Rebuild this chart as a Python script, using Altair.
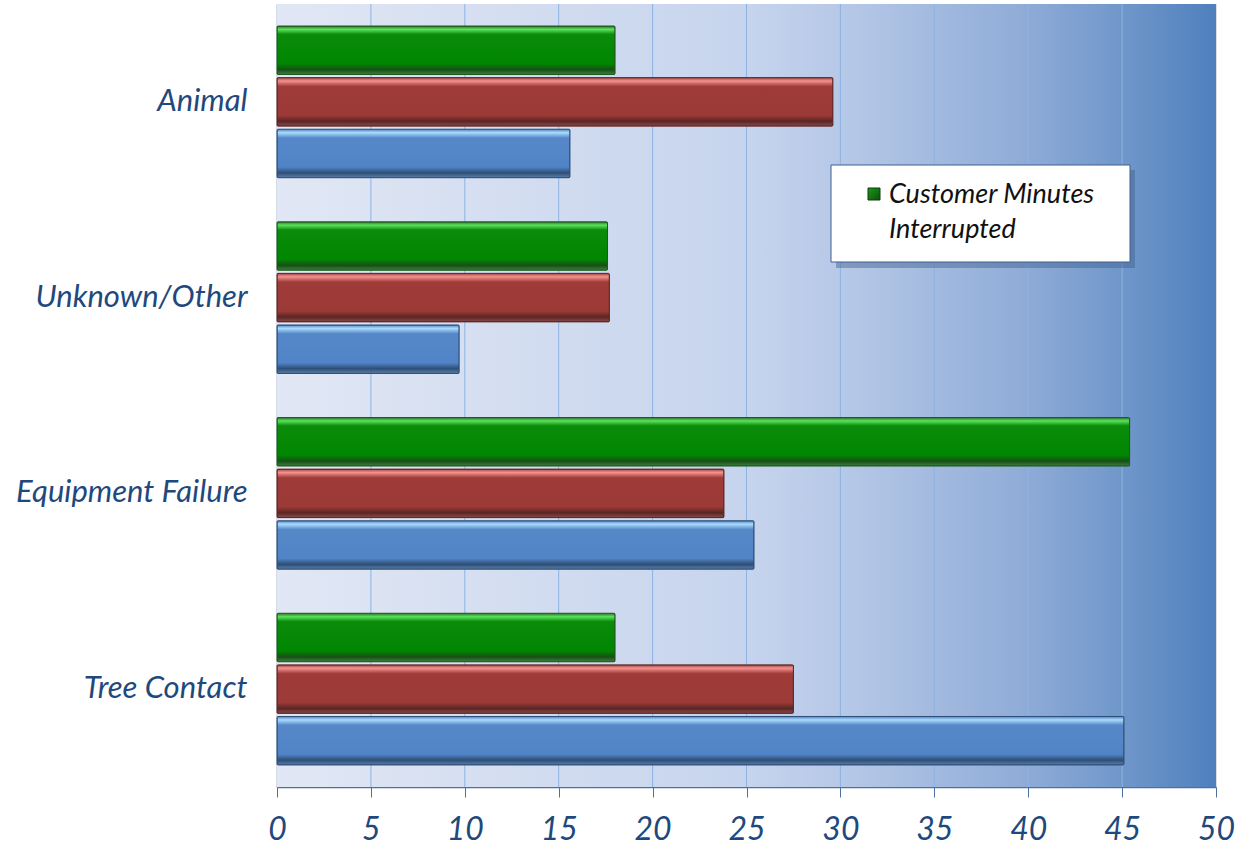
import altair as alt
import pandas as pd

# ---- data ----
causes = ["Animal", "Unknown/Other", "Equipment Failure", "Tree Contact"]
series_names = ["Customer Minutes Interrupted", "Customers Interrupted", "Number of Outages"]
cmi_values = [18.0, 17.6, 45.4, 18.0]        # green
ci_values = [29.6, 17.7, 23.8, 27.5]         # red
outage_values = [15.6, 9.7, 25.4, 45.1]      # blue
x_ticks = [0, 5, 10, 15, 20, 25, 30, 35, 40, 45, 50]
legend_lines = ["Customer Minutes", "Interrupted"]

rows = []
for i, c in enumerate(causes):
    for s, vals in zip(series_names, [cmi_values, ci_values, outage_values]):
        rows.append({"cause": c, "series": s, "value": vals[i]})
df = pd.DataFrame(rows)

W, H = 939, 783
AXIS_BLUE = "#1f497d"
FONT = "Lato"


def vgrad(stops):
    return {"gradient": "linear", "x1": 0, "y1": 0, "x2": 0, "y2": 1,
            "stops": [{"offset": o, "color": c} for o, c in stops]}


fills = {
    series_names[0]: vgrad([(0, "#2f6f2f"), (0.07, "#5ae45a"), (0.17, "#0b8c0b"),
                            (0.78, "#008600"), (0.9, "#174f17"), (1, "#3f7f3f")]),
    series_names[1]: vgrad([(0, "#a04844"), (0.07, "#f4928e"), (0.18, "#9f3b38"),
                            (0.78, "#9b3a37"), (0.9, "#5a2523"), (1, "#8a4c4a")]),
    series_names[2]: vgrad([(0, "#4f7fbf"), (0.07, "#aadcff"), (0.18, "#5688c9"),
                            (0.78, "#5184c6"), (0.9, "#2e4e76"), (1, "#5a80aa")]),
}
strokes = {series_names[0]: "#1c5a1c", series_names[1]: "#5e2624", series_names[2]: "#2f4f78"}

bg_fill = {"gradient": "linear", "x1": 0, "y1": 0, "x2": 1, "y2": 0,
           "stops": [{"offset": 0, "color": "#e1e7f4"},
                     {"offset": 0.5, "color": "#c6d4ed"},
                     {"offset": 0.62, "color": "#b3c6e6"},
                     {"offset": 0.8, "color": "#8eabd7"},
                     {"offset": 0.9, "color": "#7097ca"},
                     {"offset": 1, "color": "#4f80bd"}]}

one = pd.DataFrame({"k": [0]})

background = alt.Chart(one).mark_rect(fill=bg_fill).encode(
    x=alt.value(0), x2=alt.value(W), y=alt.value(0), y2=alt.value(H)
)

x_scale = alt.Scale(domain=[0, 50], nice=False)
x_axis = alt.Axis(values=x_ticks, labelFont=FONT, labelFontSize=32,
                  labelFontStyle="italic", labelColor=AXIS_BLUE, labelPadding=17,
                  labelFlush=False, labelOverlap=False,
                  tickSize=10, tickColor="#4f6fa0", domainColor="#4f6fa0",
                  domainWidth=1.5, grid=False)

grid = alt.Chart(pd.DataFrame({"value": x_ticks[1:-1]})).mark_rule(
    color="#8db3e2", strokeWidth=1
).encode(x=alt.X("value:Q", scale=x_scale, axis=x_axis, title=None))

y_enc = alt.Y(
    "cause:N", sort=causes, title=None,
    scale=alt.Scale(paddingInner=0.225, paddingOuter=0.1125),
    axis=alt.Axis(labelFont=FONT, labelFontSize=31, labelFontStyle="italic",
                  labelColor=AXIS_BLUE, labelPadding=30, ticks=False, labelLimit=400,
                  domainColor="#4f6fa0", domainWidth=1.5, grid=False),
)
x_enc = alt.X("value:Q", title=None, scale=x_scale, axis=x_axis)
yoff = alt.YOffset("series:N", scale=alt.Scale(domain=series_names, paddingInner=0.06))

bar_layers = []
for s in series_names:
    bar_layers.append(
        alt.Chart(df).transform_filter(alt.datum.series == s)
        .mark_bar(fill=fills[s], stroke=strokes[s], strokeWidth=1, cornerRadius=1)
        .encode(x=x_enc, y=y_enc, yOffset=yoff)
    )

# legend box (inside plot, top right)
shadow = alt.Chart(one).mark_rect(fill="#3f5f8a", opacity=0.45).encode(
    x=alt.value(559), x2=alt.value(858), y=alt.value(166), y2=alt.value(264)
)
box = alt.Chart(one).mark_rect(fill="white", stroke="#3f5f8f", strokeWidth=1).encode(
    x=alt.value(554), x2=alt.value(853), y=alt.value(161), y2=alt.value(258)
)
swatch = alt.Chart(one).mark_rect(
    fill={"gradient": "linear", "x1": 0, "y1": 0, "x2": 1, "y2": 1,
          "stops": [{"offset": 0, "color": "#1a9a1a"}, {"offset": 1, "color": "#0c4f0c"}]},
    stroke="#0a3f0a", strokeWidth=1
).encode(x=alt.value(591), x2=alt.value(603), y=alt.value(184), y2=alt.value(196))

leg_texts = []
for i, line in enumerate(legend_lines):
    leg_texts.append(
        alt.Chart(pd.DataFrame({"line": [line]})).mark_text(
            align="left", baseline="middle", font=FONT, fontSize=27,
            fontStyle="italic", color="#111111"
        ).encode(x=alt.value(612), y=alt.value(191 + 35 * i), text="line:N")
    )

chart = alt.layer(
    background, grid, *bar_layers, shadow, box, swatch, *leg_texts
).properties(
    width=W, height=H,
    padding={"left": 277, "top": 4, "right": 31, "bottom": 60},
    autosize="none",
).configure_view(stroke="#95b3d7", strokeWidth=1).configure(background="white")

chart.save("out.html", embed_options={"renderer": "svg", "actions": False})
